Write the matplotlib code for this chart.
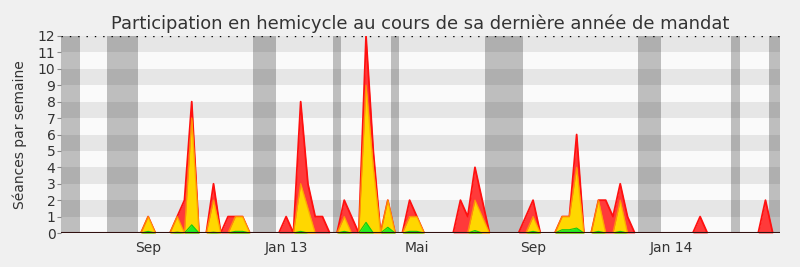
"""
participation.py
weekly attendance in the hemicycle over the last year of the mandate
"""
import numpy as np
import matplotlib
matplotlib.use("Agg")
import matplotlib.pyplot as plt

# weeks from the left edge of the chart
weeks = np.arange(100)

# sessions per week (total)
total = [0] * 100
for w, v in {12: 1, 16: 1, 17: 2, 18: 8, 21: 3, 23: 1, 24: 1, 25: 1,
             31: 1, 33: 8, 34: 3, 35: 1, 36: 1, 39: 2, 40: 1, 42: 12,
             43: 5, 45: 2, 48: 2, 49: 1, 55: 2, 56: 1, 57: 4, 58: 2,
             64: 1, 65: 2, 69: 1, 70: 1, 71: 6, 74: 2, 75: 2, 76: 1,
             77: 3, 78: 1, 88: 1, 97: 2}.items():
    total[w] = v

# middle layer (yellow)
middle = [0] * 100
for w, v in {12: 1, 16: 1, 18: 7, 21: 2, 24: 1, 25: 1, 33: 3, 34: 1.5,
             39: 1, 42: 9, 43: 4, 45: 2, 48: 1, 49: 1, 57: 2, 58: 1,
             65: 1, 69: 1, 70: 1, 71: 4, 74: 2, 77: 2}.items():
    middle[w] = v

# bottom layer (green)
bottom = [0] * 100
for w, v in {12: 0.1, 16: 0.05, 18: 0.5, 21: 0.05, 24: 0.1, 25: 0.1,
             33: 0.1, 39: 0.1, 42: 0.65, 45: 0.35, 48: 0.1, 49: 0.1,
             57: 0.15, 65: 0.1, 69: 0.2, 70: 0.2, 71: 0.3, 74: 0.1,
             77: 0.1}.items():
    bottom[w] = v

# holiday periods (in weeks)
holidays = [(0, 2.6), (6.4, 10.6), (26.5, 29.6), (37.4, 38.6), (45.5, 46.6),
            (58.4, 63.6), (79.5, 82.6), (92.3, 93.5), (97.5, 99)]

tick_pos = [12, 31, 49, 65, 84]
tick_labels = ["Sep", "Jan 13", "Mai", "Sep", "Jan 14"]

fig = plt.figure(figsize=(8, 2.67), dpi=100, facecolor="#f0f0f0")
ax = fig.add_axes([0.07625, 0.1273, 0.89875, 0.7379])
ax.set_facecolor("#fafafa")

# alternating rows
for k in range(1, 12, 2):
    ax.axhspan(k, k + 1, color="#e6e6e6", lw=0, zorder=0)
for a, b in holidays:
    ax.axvspan(a, b, color="black", alpha=0.24, lw=0, zorder=1)

ax.fill_between(weeks, total, color="#ff3a3a", lw=0, zorder=2)
ax.plot(weeks, total, color="#ff1010", lw=1.3, zorder=3)
ax.fill_between(weeks, middle, color="#ffd700", lw=0, zorder=4)
ax.plot(weeks, middle, color="#ffa000", lw=1.0, alpha=0.8, zorder=5)
ax.fill_between(weeks, bottom, color="#22ee22", lw=0, zorder=6)
ax.plot(weeks, bottom, color="#11cc11", lw=0.8, zorder=7)

ax.axhline(0, color="#301010", lw=1.5, zorder=8)
ax.axhline(12, color="black", lw=1, ls=(0, (1, 5)), zorder=8)

ax.set_xlim(0, 99)
ax.set_ylim(0, 12)
ax.set_yticks(range(13))
ax.set_xticks(tick_pos)
ax.set_xticklabels(tick_labels)
ax.tick_params(axis="x", length=0, labelsize=10, labelcolor="#333333", pad=6)
ax.tick_params(axis="y", length=3, color="#888888", labelsize=10,
               labelcolor="#333333", pad=1)
for s in ax.spines.values():
    s.set_visible(False)

ax.set_ylabel("Séances par semaine", fontsize=10, color="#333333", labelpad=8)
ax.set_title("Participation en hemicycle au cours de sa dernière année de mandat",
             fontsize=12.9, color="#333333", pad=5)

plt.savefig("out.png", dpi=100, facecolor=fig.get_facecolor())
